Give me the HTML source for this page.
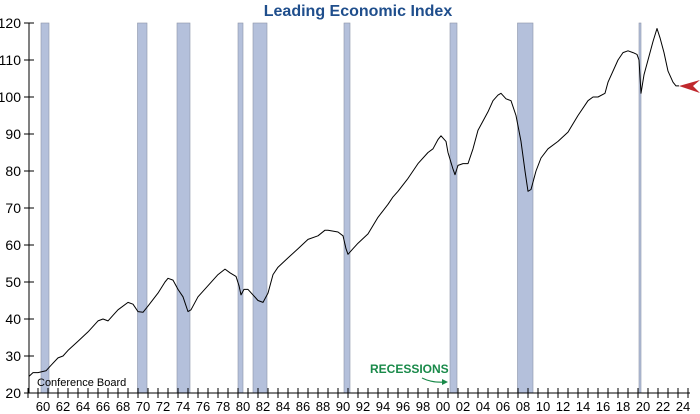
<!DOCTYPE html>
<html><head><meta charset="utf-8"><style>
body{margin:0;background:#fff}
svg{display:block;font-family:"Liberation Sans",Arial,sans-serif}
</style></head><body>
<svg id="c" width="700" height="414" viewBox="0 0 700 414"></svg>
<script>
const X=t=>38+(t-1960)*10, Y=v=>393-(v-20)*3.7;
let s='';
s+='<text x="358" y="16" text-anchor="middle" font-size="16" font-weight="bold" fill="#1f4e8c">Leading Economic Index</text>';
[[1960.3,1961.1],[1969.95,1970.9],[1973.9,1975.2],[1980.0,1980.5],[1981.5,1982.9],[1990.6,1991.2],[2001.2,2001.9],[2007.95,2009.5],[2020.1,2020.3]].forEach(r=>{
 s+=`<rect x="${X(r[0])}" y="23" width="${X(r[1])-X(r[0])}" height="370" fill="#b4c0db" stroke="#8c94a8" stroke-width="0.6"/>`;});
for(let v=20;v<=120;v+=10){s+=`<line x1="24" x2="34" y1="${Y(v)}" y2="${Y(v)}" stroke="#000"/><text x="21" y="${Y(v)+5}" text-anchor="end" font-size="14">${v}</text>`;}
for(let y=1959;y<=2025;y++){const x=X(y);s+=`<line x1="${x}" x2="${x}" y1="388" y2="398" stroke="#000"/>`;}
for(let y=1960;y<=2024;y+=2){s+=`<text x="${X(y+0.5)}" y="411" text-anchor="middle" font-size="13">${String(y%100).padStart(2,'0')}</text>`;}
s+='<line x1="29" x2="29" y1="23" y2="393" stroke="#000"/><line x1="29" x2="690" y1="393" y2="393" stroke="#000"/>';
const d=[[1959.1,24.5],[1959.5,25.5],[1960,25.5],[1960.8,26],[1961.3,27.5],[1962,29.5],[1962.5,30],[1963,31.5],[1964,34],[1965,36.5],[1966,39.5],[1966.5,40],[1967,39.5],[1967.5,41],[1968,42.5],[1969,44.5],[1969.5,44],[1970,42],[1970.5,41.8],[1971,43.5],[1972,47],[1972.7,50],[1973,51],[1973.5,50.5],[1974,48],[1974.5,46],[1975,42],[1975.3,42.5],[1976,46],[1977,49],[1978,52],[1978.7,53.5],[1979.2,52.5],[1979.8,51.5],[1980.1,49],[1980.3,46.5],[1980.6,48],[1981,48],[1981.5,46.5],[1982,45],[1982.5,44.5],[1983,47],[1983.5,52],[1984,54],[1985,56.5],[1986,59],[1987,61.5],[1988,62.5],[1988.7,64],[1989,64],[1990,63.5],[1990.5,62.5],[1990.8,59],[1991,57.5],[1991.5,59],[1992,60.5],[1993,63],[1994,67.5],[1995,71],[1995.5,73],[1996,74.5],[1997,78],[1998,82],[1999,85],[1999.5,86],[2000,88.5],[2000.3,89.5],[2000.8,88],[2001,85],[2001.5,80.5],[2001.7,79],[2002,81.5],[2002.5,82],[2003,82],[2003.5,86],[2004,91],[2005,96],[2005.5,99],[2006,100.5],[2006.3,101],[2006.8,99.5],[2007.3,99],[2007.8,95],[2008.3,88],[2008.7,80],[2009,74.5],[2009.3,75],[2009.8,80],[2010.3,83.5],[2011,86],[2012,88],[2013,90.5],[2014,95],[2015,99],[2015.5,100],[2016,100],[2016.7,101],[2017,104],[2018,110],[2018.5,112],[2019,112.5],[2019.5,112],[2019.9,111.5],[2020.1,110],[2020.3,101],[2020.6,106],[2021,110],[2021.5,115],[2021.9,118.5],[2022.2,116],[2022.6,112],[2023,107],[2023.5,104],[2023.8,103],[2024.1,103]];
s+='<polyline fill="none" stroke="#000" stroke-width="1" stroke-linejoin="round" points="'+d.map(p=>X(p[0]).toFixed(1)+','+Y(p[1]).toFixed(1)).join(' ')+'"/>';
s+='<polygon points="679,86 700,80 693,86 700,93" fill="#c0282d"/>';
s+='<text x="37" y="386" font-size="11">Conference Board</text>';
s+='<text x="370" y="373" font-size="12" font-weight="bold" fill="#1a8a4a">RECESSIONS</text>';
s+='<path d="M422,378 Q432,383 445,382" fill="none" stroke="#1a8a4a" stroke-width="1.2"/><polygon points="448,382 442,379 442,385" fill="#1a8a4a"/>';
document.getElementById('c').innerHTML=s;
</script>
</body></html>
